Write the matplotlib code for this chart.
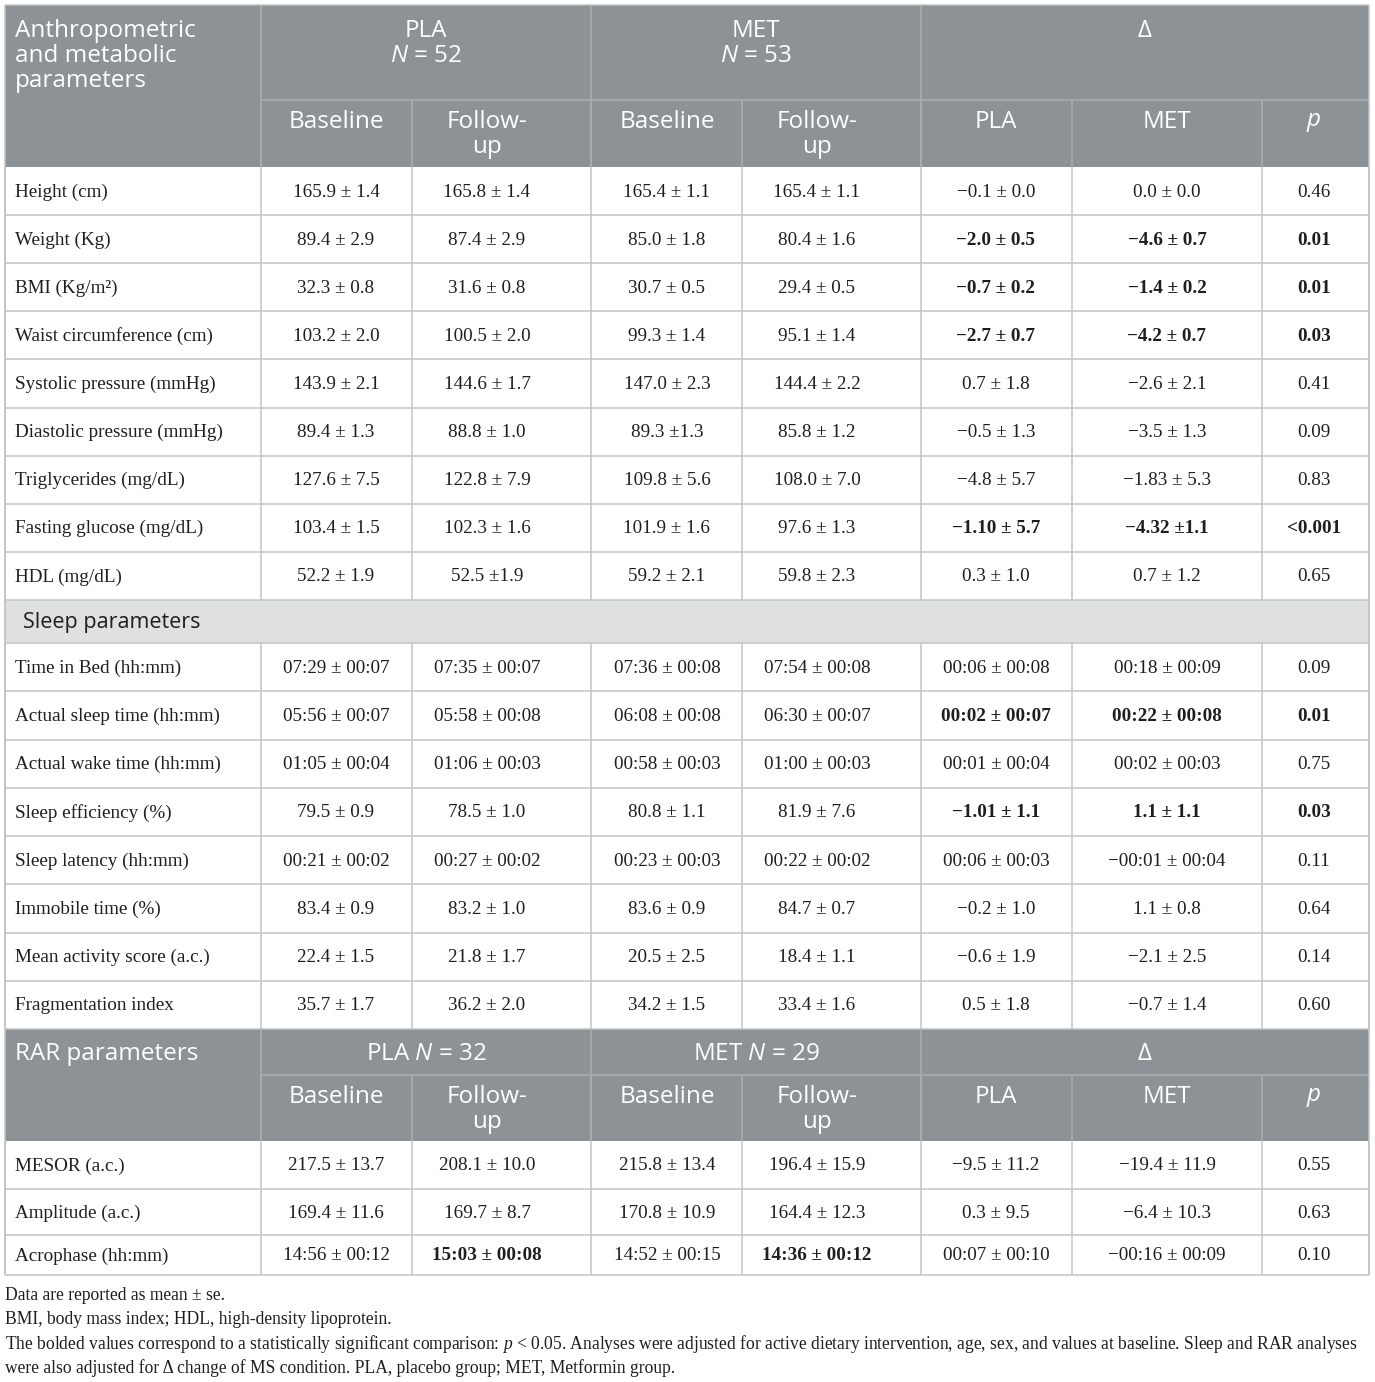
import matplotlib
matplotlib.use("Agg")
import matplotlib.pyplot as plt

plt.rcParams['mathtext.fontset'] = 'custom'
plt.rcParams['mathtext.it'] = 'Liberation Serif:italic'
plt.rcParams['mathtext.rm'] = 'Liberation Serif'
plt.rcParams['mathtext.bf'] = 'Open Sans:italic'

# ---------------- data ----------------
header_groups = ["PLA\n$\\mathbf{N}$ = 52", "MET\n$\\mathbf{N}$ = 53", "Δ"]
sub_headers = ["Baseline", "Follow-\nup", "Baseline", "Follow-\nup", "PLA", "MET", "$\\mathbf{p}$"]
section1_title = ["Anthropometric", "and metabolic", "parameters"]
section2_title = "Sleep parameters"
section3_title = "RAR parameters"
rar_groups = ["PLA $\\mathbf{N}$ = 32", "MET $\\mathbf{N}$ = 29", "Δ"]

labels1 = ["Height (cm)", "Weight (Kg)", "BMI (Kg/m²)", "Waist circumference (cm)",
           "Systolic pressure (mmHg)", "Diastolic pressure (mmHg)", "Triglycerides (mg/dL)",
           "Fasting glucose (mg/dL)", "HDL (mg/dL)"]
pla_base1 = ["165.9 ± 1.4", "89.4 ± 2.9", "32.3 ± 0.8", "103.2 ± 2.0", "143.9 ± 2.1",
             "89.4 ± 1.3", "127.6 ± 7.5", "103.4 ± 1.5", "52.2 ± 1.9"]
pla_fu1 = ["165.8 ± 1.4", "87.4 ± 2.9", "31.6 ± 0.8", "100.5 ± 2.0", "144.6 ± 1.7",
           "88.8 ± 1.0", "122.8 ± 7.9", "102.3 ± 1.6", "52.5 ±1.9"]
met_base1 = ["165.4 ± 1.1", "85.0 ± 1.8", "30.7 ± 0.5", "99.3 ± 1.4", "147.0 ± 2.3",
             "89.3 ±1.3", "109.8 ± 5.6", "101.9 ± 1.6", "59.2 ± 2.1"]
met_fu1 = ["165.4 ± 1.1", "80.4 ± 1.6", "29.4 ± 0.5", "95.1 ± 1.4", "144.4 ± 2.2",
           "85.8 ± 1.2", "108.0 ± 7.0", "97.6 ± 1.3", "59.8 ± 2.3"]
d_pla1 = ["−0.1 ± 0.0", "−2.0 ± 0.5", "−0.7 ± 0.2", "−2.7 ± 0.7", "0.7 ± 1.8",
          "−0.5 ± 1.3", "−4.8 ± 5.7", "−1.10 ± 5.7", "0.3 ± 1.0"]
d_met1 = ["0.0 ± 0.0", "−4.6 ± 0.7", "−1.4 ± 0.2", "−4.2 ± 0.7", "−2.6 ± 2.1",
          "−3.5 ± 1.3", "−1.83 ± 5.3", "−4.32 ±1.1", "0.7 ± 1.2"]
p1 = ["0.46", "0.01", "0.01", "0.03", "0.41", "0.09", "0.83", "<0.001", "0.65"]
bold_rows1 = [1, 2, 3, 7]

labels2 = ["Time in Bed (hh:mm)", "Actual sleep time (hh:mm)", "Actual wake time (hh:mm)",
           "Sleep efficiency (%)", "Sleep latency (hh:mm)", "Immobile time (%)",
           "Mean activity score (a.c.)", "Fragmentation index"]
pla_base2 = ["07:29 ± 00:07", "05:56 ± 00:07", "01:05 ± 00:04", "79.5 ± 0.9",
             "00:21 ± 00:02", "83.4 ± 0.9", "22.4 ± 1.5", "35.7 ± 1.7"]
pla_fu2 = ["07:35 ± 00:07", "05:58 ± 00:08", "01:06 ± 00:03", "78.5 ± 1.0",
           "00:27 ± 00:02", "83.2 ± 1.0", "21.8 ± 1.7", "36.2 ± 2.0"]
met_base2 = ["07:36 ± 00:08", "06:08 ± 00:08", "00:58 ± 00:03", "80.8 ± 1.1",
             "00:23 ± 00:03", "83.6 ± 0.9", "20.5 ± 2.5", "34.2 ± 1.5"]
met_fu2 = ["07:54 ± 00:08", "06:30 ± 00:07", "01:00 ± 00:03", "81.9 ± 7.6",
           "00:22 ± 00:02", "84.7 ± 0.7", "18.4 ± 1.1", "33.4 ± 1.6"]
d_pla2 = ["00:06 ± 00:08", "00:02 ± 00:07", "00:01 ± 00:04", "−1.01 ± 1.1",
          "00:06 ± 00:03", "−0.2 ± 1.0", "−0.6 ± 1.9", "0.5 ± 1.8"]
d_met2 = ["00:18 ± 00:09", "00:22 ± 00:08", "00:02 ± 00:03", "1.1 ± 1.1",
          "−00:01 ± 00:04", "1.1 ± 0.8", "−2.1 ± 2.5", "−0.7 ± 1.4"]
p2 = ["0.09", "0.01", "0.75", "0.03", "0.11", "0.64", "0.14", "0.60"]
bold_rows2 = [1, 3]

labels3 = ["MESOR (a.c.)", "Amplitude (a.c.)", "Acrophase (hh:mm)"]
pla_base3 = ["217.5 ± 13.7", "169.4 ± 11.6", "14:56 ± 00:12"]
pla_fu3 = ["208.1 ± 10.0", "169.7 ± 8.7", "15:03 ± 00:08"]
met_base3 = ["215.8 ± 13.4", "170.8 ± 10.9", "14:52 ± 00:15"]
met_fu3 = ["196.4 ± 15.9", "164.4 ± 12.3", "14:36 ± 00:12"]
d_pla3 = ["−9.5 ± 11.2", "0.3 ± 9.5", "00:07 ± 00:10"]
d_met3 = ["−19.4 ± 11.9", "−6.4 ± 10.3", "−00:16 ± 00:09"]
p3 = ["0.55", "0.63", "0.10"]
bold_cells3 = [(2, 2), (2, 4)]  # (row, column)

footnotes = [
    "Data are reported as mean ± se.",
    "BMI, body mass index; HDL, high-density lipoprotein.",
    "The bolded values correspond to a statistically significant comparison: $p$ < 0.05. "
    "Analyses were adjusted for active dietary intervention, age, sex, and values at baseline. Sleep and RAR analyses",
    "were also adjusted for Δ change of MS condition. PLA, placebo group; MET, Metformin group.",
]

# ---------------- layout ----------------
W, H = 1375, 1382
HEAD_BG = "#8c9295"
HEAD_LINE = "#a9aeb1"
SLEEP_BG = "#dfe1e1"
GRID = "#c3c3c3"
TXT = "#1e1e1e"
SANS = "Open Sans"
SERIF = "Liberation Serif"
BODY_FS = 13.8
HEAD_FS = 17.5
FOOT_FS = 12.65

col_edges = [5, 261, 412, 591, 742, 921, 1072, 1262, 1369]
col_text_x = [15, 336, 487, 667, 817, 996, 1167, 1314]
group_spans = [(1, 3), (3, 5), (5, 8)]

fig = plt.figure(figsize=(W / 100, H / 100), dpi=100)
ax = fig.add_axes([0, 0, 1, 1])
ax.set_xlim(0, W)
ax.set_ylim(H, 0)
ax.axis("off")

LW = 1.1


def rect(x0, y0, x1, y1, color):
    ax.fill_between([x0, x1], [y0, y0], [y1, y1], color=color, lw=0, zorder=1)


def hline(y, x0, x1, color=GRID):
    ax.plot([x0, x1], [y, y], color=color, lw=LW, zorder=3, solid_capstyle="butt")


def vline(x, y0, y1, color=GRID):
    ax.plot([x, x], [y0, y1], color=color, lw=LW, zorder=3, solid_capstyle="butt")


def header_block(y0, ysplit, y1, title_lines, groups, title_y, group_y, sub_y):
    rect(col_edges[0], y0, col_edges[-1], y1, HEAD_BG)
    hline(ysplit, col_edges[1], col_edges[-1], HEAD_LINE)
    for (a, b) in group_spans:
        vline(col_edges[a], y0, y1, HEAD_LINE)
    for k in range(1, len(col_edges) - 1):
        vline(col_edges[k], ysplit, y1, HEAD_LINE)
    for i, t in enumerate(title_lines):
        ax.text(col_text_x[0], title_y + i * 25, t, color="white", family=SANS,
                fontsize=HEAD_FS, ha="left", va="center", zorder=5)
    for (a, b), g in zip(group_spans, groups):
        cx = (col_edges[a] + col_edges[b]) / 2
        for i, t in enumerate(g.split("\n")):
            ax.text(cx, group_y + i * 25, t, color="white", family=SANS,
                    fontsize=HEAD_FS, ha="center", va="center", zorder=5)
    for k, s in enumerate(sub_headers):
        for i, t in enumerate(s.split("\n")):
            ax.text(col_text_x[k + 1], sub_y + i * 25, t, color="white", family=SANS,
                    fontsize=HEAD_FS, ha="center", va="center", zorder=5)


def body_rows(y_edges, labels, cols, bold_fn):
    for r, lab in enumerate(labels):
        ya, yb = y_edges[r], y_edges[r + 1]
        yc = (ya + yb) / 2 + 1
        ax.text(col_text_x[0], yc, lab, color=TXT, family=SERIF, fontsize=BODY_FS,
                ha="left", va="center", zorder=5)
        for c, vals in enumerate(cols):
            ax.text(col_text_x[c + 1], yc, vals[r], color=TXT, family=SERIF,
                    fontsize=BODY_FS, ha="center", va="center", zorder=5,
                    fontweight="bold" if bold_fn(r, c + 1) else "normal")
        hline(yb, col_edges[0], col_edges[-1])
    for x in col_edges:
        vline(x, y_edges[0], y_edges[-1])


# Section 1
top0, top_split, top1 = 5, 100, 167
header_block(top0, top_split, top1, section1_title, header_groups, 31, 31, 122)
row_h = (600 - top1) / len(labels1)
y1 = [top1 + i * row_h for i in range(len(labels1) + 1)]
body_rows(y1, labels1,
          [pla_base1, pla_fu1, met_base1, met_fu1, d_pla1, d_met1, p1],
          lambda r, c: r in bold_rows1 and c >= 5)

# Sleep title row
s0 = y1[-1]
s1 = s0 + 43
rect(col_edges[0], s0, col_edges[-1], s1, SLEEP_BG)
ax.text(23, (s0 + s1) / 2 + 1, section2_title, color=TXT, family=SANS, fontsize=15.5,
        ha="left", va="center", zorder=5)
vline(col_edges[0], s0, s1)
vline(col_edges[-1], s0, s1)
hline(s1, col_edges[0], col_edges[-1])

row_h2 = (1029 - s1) / len(labels2)
y2 = [s1 + i * row_h2 for i in range(len(labels2) + 1)]
body_rows(y2, labels2,
          [pla_base2, pla_fu2, met_base2, met_fu2, d_pla2, d_met2, p2],
          lambda r, c: r in bold_rows2 and c >= 5)

# RAR header
r0 = y2[-1]
r_split = r0 + 46
r1 = r0 + 112
header_block(r0, r_split, r1, [section3_title], rar_groups, r0 + 25, r0 + 25, r0 + 68)
y3 = [r1, r1 + 48, r1 + 94, 1275]
body_rows(y3, labels3,
          [pla_base3, pla_fu3, met_base3, met_fu3, d_pla3, d_met3, p3],
          lambda r, c: (r, c) in bold_cells3)
hline(5, col_edges[0], col_edges[-1])
vline(col_edges[0], 5, 1275)
vline(col_edges[-1], 5, 1275)

# footnotes
for i, t in enumerate(footnotes):
    ax.text(5, 1295 + i * 24.3, t, color=TXT, family=SERIF, fontsize=FOOT_FS,
            ha="left", va="center", zorder=5)

fig.savefig("out.png", dpi=100, facecolor="white")
